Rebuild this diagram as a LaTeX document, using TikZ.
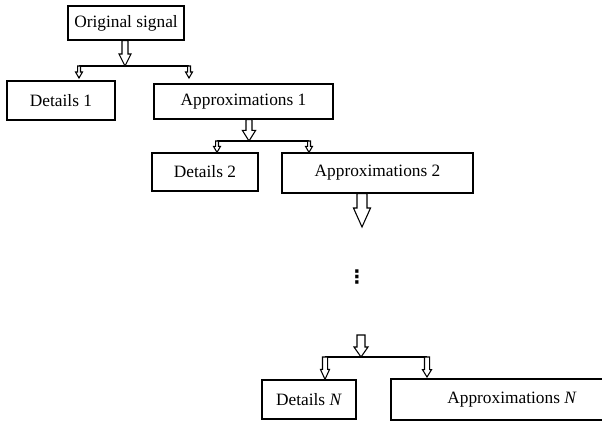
\documentclass[tikz,border=0pt]{standalone}
\usepackage{fontspec}
\setmainfont{Liberation Serif}
\newfontfamily\symfont{DejaVu Sans}
\usetikzlibrary{calc}
\newcommand\hollowarrow[5]{%
  \draw[arrowshape] let \p1=(#1), \p2=(#2) in
    (\x1-#3,\y1) -- (\x1-#3,\y2+#5) -- (\x1-#4,\y2+#5) -- (\x1,\y2)
    -- (\x1+#4,\y2+#5) -- (\x1+#3,\y2+#5) -- (\x1+#3,\y1) -- cycle;}
\begin{document}
\begin{tikzpicture}[x=0.75pt,y=-0.75pt,
  box/.style={draw, line width=0.9pt, inner sep=0pt, font=\fontsize{13}{15}\selectfont},
  arrowshape/.style={draw, fill=white, line width=0.8pt, line join=miter},
  link/.style={line width=0.9pt}]
\useasboundingbox (0,0) rectangle (602,423);
% boxes
\node[box, minimum width=87pt, minimum height=25.5pt] (orig) at (126,23) {Original signal};
\node[box, minimum width=81pt, minimum height=29.25pt] (d1) at (61,100.5) {Details 1};
\node[box, minimum width=134.25pt, minimum height=26.25pt] (a1) at (243.5,101.5) {Approximations 1};
\node[box, minimum width=79.5pt, minimum height=28.5pt] (d2) at (205,172) {Details 2};
\node[box, minimum width=143.25pt, minimum height=30pt] (a2) at (377.5,173) {Approximations 2};
\node[box, minimum width=70.5pt, minimum height=29.25pt] (dN) at (309,399.5) {Details \textit{N}};
\node[box, minimum width=181.5pt, minimum height=30.75pt] (aN) at (512,399.5) {Approximations \textit{N}};
\node[inner sep=0pt, font=\symfont\fontsize{14}{16}\selectfont\bfseries] (dots) at (357,277) {⋮};
% level 1
\coordinate (t1) at (125,66);
\coordinate (l1) at (79,66);
\coordinate (r1) at (189,66);
\draw[link] (l1) -- (r1);
\hollowarrow{orig.south -| t1}{t1}{2.25pt}{4.5pt}{9pt}
\coordinate (e1l) at (79,78);
\coordinate (e1r) at (189,78);
\hollowarrow{l1}{e1l}{1.1pt}{2.6pt}{4.5pt}
\hollowarrow{r1}{e1r}{1.1pt}{2.6pt}{4.5pt}
% level 2
\coordinate (t2) at (249,141);
\coordinate (l2) at (217,141);
\coordinate (r2) at (309,141);
\draw[link] (l2) -- (r2);
\hollowarrow{a1.south -| t2}{t2}{2.25pt}{5pt}{8pt}
\hollowarrow{l2}{l2 |- d2.north}{1.1pt}{2.6pt}{4.5pt}
\hollowarrow{r2}{r2 |- a2.north}{1.1pt}{2.6pt}{4.5pt}
% towards dots
\coordinate (t3) at (362,227);
\hollowarrow{a2.south -| t3}{t3}{3.75pt}{6.4pt}{14.25pt}
% level N
\coordinate (sN) at (361,335);
\coordinate (tN) at (361,357);
\coordinate (lN) at (325,357);
\coordinate (rN) at (427,357);
\draw[link] (lN) -- (rN);
\hollowarrow{sN}{tN}{3pt}{5.25pt}{7.5pt}
\coordinate (eNr) at (427,377);
\hollowarrow{lN}{lN |- dN.north}{1.9pt}{3.4pt}{7.5pt}
\hollowarrow{rN}{eNr}{1.9pt}{3.4pt}{5.5pt}
\end{tikzpicture}
\end{document}
